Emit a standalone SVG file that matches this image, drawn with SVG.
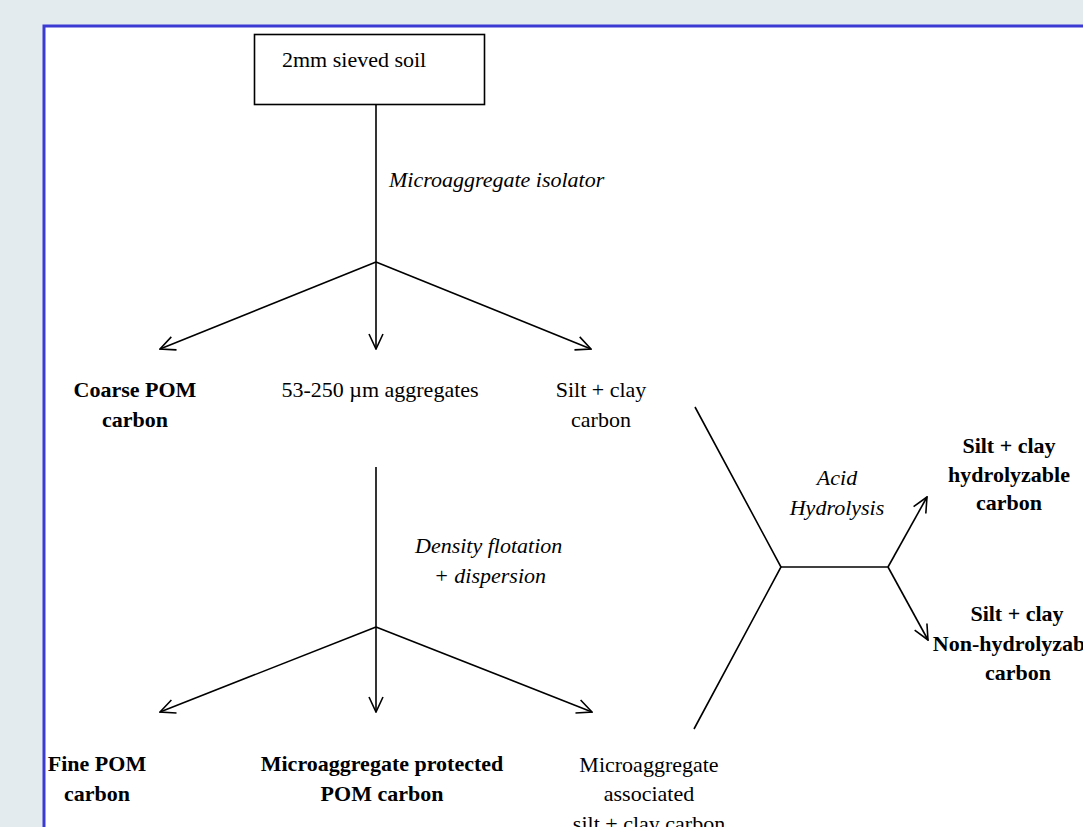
<svg xmlns="http://www.w3.org/2000/svg" width="1083" height="827" viewBox="0 0 1083 827">
<defs>
<style>
.t{font-family:"Liberation Serif","Times New Roman",serif;font-size:22px;fill:#000}
.b{font-weight:bold}
.i{font-style:italic}
.m{text-anchor:middle}
.ln{stroke:#000;stroke-width:1.6;fill:none}
</style>
<marker id="ah" viewBox="0 0 17 16" refX="16" refY="8" markerWidth="17" markerHeight="16" markerUnits="userSpaceOnUse" orient="auto">
<path d="M1,1 L16,8 L1,15" fill="none" stroke="#000" stroke-width="1.6"/>
</marker>
</defs>
<rect x="0" y="0" width="1083" height="827" fill="#e3ebee"/>
<rect x="44" y="26" width="1060" height="830" fill="#ffffff" stroke="#3b3bd4" stroke-width="3"/>

<g id="connectors" class="ln">
<line x1="376" y1="104" x2="376" y2="262"/>
<line x1="376" y1="262" x2="160" y2="349" marker-end="url(#ah)"/>
<line x1="376" y1="262" x2="376" y2="349" marker-end="url(#ah)"/>
<line x1="376" y1="262" x2="591" y2="349" marker-end="url(#ah)"/>
<line x1="376" y1="467" x2="376" y2="627"/>
<line x1="376" y1="627" x2="160" y2="712" marker-end="url(#ah)"/>
<line x1="376" y1="627" x2="376" y2="712" marker-end="url(#ah)"/>
<line x1="376" y1="627" x2="592" y2="712" marker-end="url(#ah)"/>
<polyline points="695,407 781,567 694,729"/>
<line x1="781" y1="567" x2="888" y2="567"/>
<line x1="888" y1="567" x2="927" y2="497" marker-end="url(#ah)"/>
<line x1="888" y1="567" x2="928" y2="640" marker-end="url(#ah)"/>
</g>

<g id="node-soil">
<rect x="254.5" y="34.5" width="230" height="70" fill="#fff" stroke="#000" stroke-width="1.6"/>
<text class="t" x="282" y="67">2mm sieved soil</text>
</g>
<g id="label-isolator"><text class="t i" x="389" y="187">Microaggregate isolator</text></g>
<g id="node-coarse">
<text class="t b m" x="135" y="397">Coarse POM</text>
<text class="t b m" x="135" y="427">carbon</text>
</g>
<g id="node-aggregates"><text class="t m" x="380" y="397">53-250 µm aggregates</text></g>
<g id="node-siltclay">
<text class="t m" x="601" y="397">Silt + clay</text>
<text class="t m" x="601" y="427">carbon</text>
</g>
<g id="label-density">
<text class="t i" x="415" y="553">Density flotation</text>
<text class="t i m" x="490" y="583">+ dispersion</text>
</g>
<g id="label-acid">
<text class="t i m" x="837" y="485">Acid</text>
<text class="t i m" x="837" y="515">Hydrolysis</text>
</g>
<g id="node-hydro">
<text class="t b m" x="1009" y="453">Silt + clay</text>
<text class="t b m" x="1009" y="482">hydrolyzable</text>
<text class="t b m" x="1009" y="510">carbon</text>
</g>
<g id="node-nonhydro">
<text class="t b m" x="1017" y="621">Silt + clay</text>
<text class="t b m" x="1017" y="651">Non-hydrolyzable</text>
<text class="t b m" x="1018" y="680">carbon</text>
</g>
<g id="node-fine">
<text class="t b m" x="97" y="771">Fine POM</text>
<text class="t b m" x="97" y="801">carbon</text>
</g>
<g id="node-protected">
<text class="t b m" x="382" y="771">Microaggregate protected</text>
<text class="t b m" x="382" y="801">POM carbon</text>
</g>
<g id="node-associated">
<text class="t m" x="649" y="772">Microaggregate</text>
<text class="t m" x="649" y="801">associated</text>
<text class="t m" x="649" y="831">silt + clay carbon</text>
</g>
</svg>
